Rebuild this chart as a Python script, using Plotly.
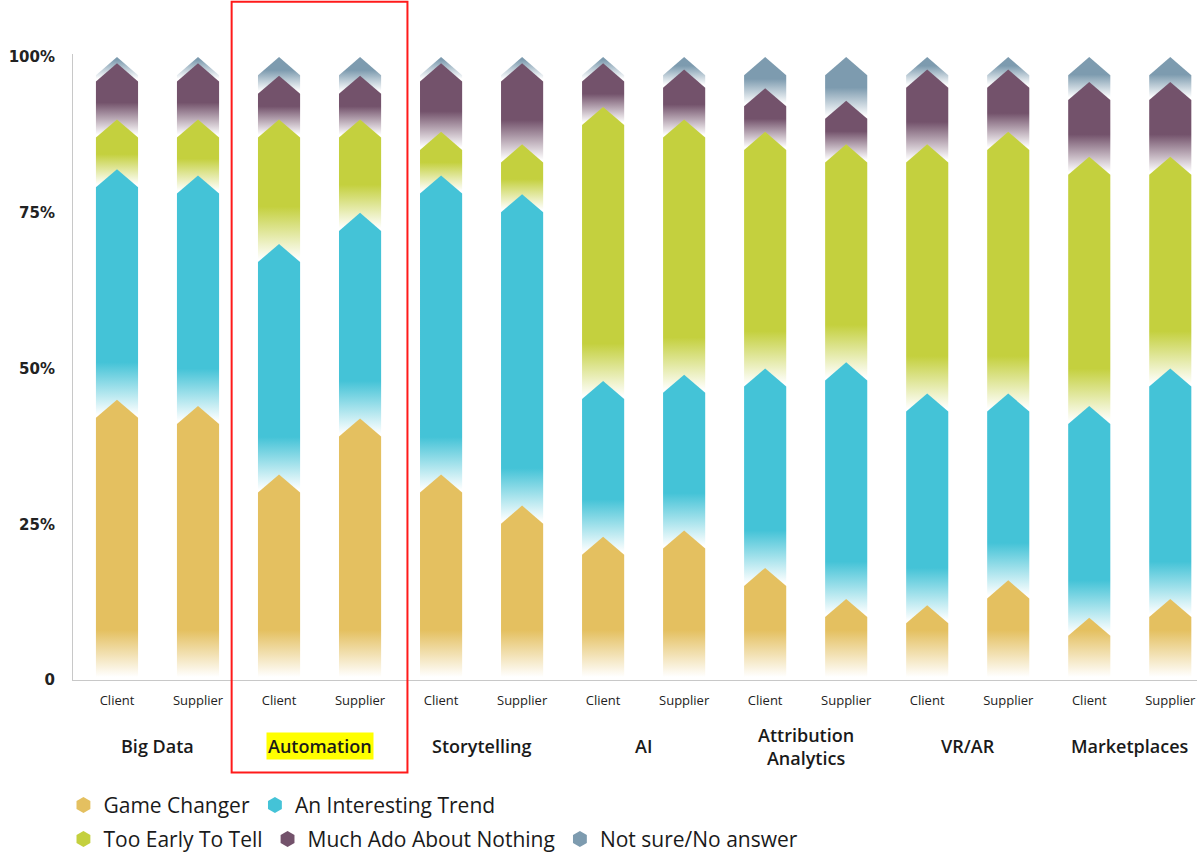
import numpy as np
import plotly.graph_objects as go

# ---------------- data (percent of respondents) ----------------
categories = ["Big Data", "Automation", "Storytelling", "AI",
              "Attribution<br>Analytics", "VR/AR", "Marketplaces"]
respondents = ["Client", "Supplier"]

game_changer      = [45, 44, 33, 42, 33, 28, 23, 24, 18, 13, 12, 16, 10, 13]
interesting_trend = [37, 37, 37, 33, 48, 50, 25, 25, 32, 38, 34, 30, 34, 37]
too_early         = [8, 9, 20, 15, 7, 8, 44, 41, 38, 35, 40, 42, 40, 34]
much_ado          = [9, 9, 7, 7, 11, 13, 7, 8, 7, 7, 12, 10, 12, 12]
not_sure          = [1, 1, 3, 3, 1, 1, 1, 2, 5, 7, 2, 2, 4, 4]

series_names = ["Game Changer", "An Interesting Trend", "Too Early To Tell",
                "Much Ado About Nothing", "Not sure/No answer"]
series_colors = ["#E4C060", "#44C3D7", "#C4D03E", "#73526B", "#7D9BAF"]
y_tickvals = [0, 25, 50, 75, 100]
y_ticktext = ["0", "25%", "50%", "75%", "100%"]
highlight_group = 1

# ---------------- geometry / style ----------------
values = np.array([game_changer, interesting_trend, too_early, much_ado, not_sure], dtype=float)
n_bars = values.shape[1]
xpos = np.arange(n_bars)
cum = np.cumsum(values, axis=0)
base = cum - values

BAR_W = 0.52
TIP = 2.9

fig = go.Figure()

# draw from top series to bottom so lower chevrons overlap upper segments
for s in reversed(range(len(series_names))):
    color = series_colors[s]
    for b in range(n_bars):
        top = cum[s, b]
        lo = base[s, b]
        bottom = max(lo - TIP, 0.0)
        xl, xr = xpos[b] - BAR_W / 2, xpos[b] + BAR_W / 2
        xs = [xl, xr, xr, xpos[b], xl, xl]
        ys = [bottom, bottom, top - TIP, top, top - TIP, bottom]
        if s == 0:
            g0, g1 = 0.5, 8.0
        else:
            g0 = lo - 2.5
            g1 = lo + min(6.0, max(0.3 * values[s, b], 0.6))
        fig.add_trace(go.Scatter(
            x=xs, y=ys, fill="toself", mode="lines",
            line=dict(width=0, color=color),
            fillcolor=color,
            fillgradient=dict(type="vertical",
                              colorscale=[[0, "#FFFFFF"], [1, color]],
                              start=g0, stop=g1),
            hoverinfo="skip", showlegend=False))

# legend entries
for s, (name, color) in enumerate(zip(series_names, series_colors)):
    fig.add_trace(go.Scatter(
        x=[None], y=[None], mode="markers", name=name,
        marker=dict(symbol="hexagon", size=16, color=color),
        legend="legend" if s < 2 else "legend2"))

# category labels
for g, cat in enumerate(categories):
    kw = {}
    if g == highlight_group:
        kw = dict(bgcolor="#FFFF00", borderpad=1)
    fig.add_annotation(x=2 * g + 0.5, xref="x", y=-0.106, yref="paper",
                       text=cat, showarrow=False, yanchor="middle",
                       font=dict(family="Open Sans", size=18, color="#1A1A1A", weight=600), **kw)

# red highlight frame
fig.add_shape(type="rect", xref="x", yref="paper",
              x0=2 * highlight_group + 0.5 - 1.085, x1=2 * highlight_group + 0.5 + 1.085,
              y0=-0.1477, y1=1.0835,
              line=dict(color="#FF1A1A", width=2), fillcolor="rgba(0,0,0,0)", layer="above")

legend_common = dict(orientation="h", xref="container", yref="container",
                     xanchor="left", yanchor="top", bgcolor="rgba(0,0,0,0)",
                     font=dict(family="Open Sans", size=21, color="#1A1A1A"),
                     itemclick=False, itemdoubleclick=False)

fig.update_layout(
    width=1197, height=853,
    margin=dict(l=73, r=0, t=54, b=173),
    paper_bgcolor="white", plot_bgcolor="white",
    legend=dict(x=0.053, y=0.080, **legend_common),
    legend2=dict(x=0.053, y=0.040, **legend_common),
    xaxis=dict(range=[-0.543, 13.33], tickvals=list(xpos),
               ticktext=respondents * len(categories),
               showline=True, linecolor="#C8C8C8", linewidth=1,
               showgrid=False, zeroline=False, ticks="",
               ticklabelstandoff=8,
               tickfont=dict(family="Open Sans", size=13, color="#222222")),
    yaxis=dict(range=[0, 100.5], tickvals=y_tickvals, ticktext=y_ticktext,
               showline=True, linecolor="#C8C8C8", linewidth=1,
               showgrid=False, zeroline=False, ticks="",
               ticklabelstandoff=14,
               tickfont=dict(family="DejaVu Sans", size=15, color="#222222", weight="bold")),
)

fig.write_html("out.html")
